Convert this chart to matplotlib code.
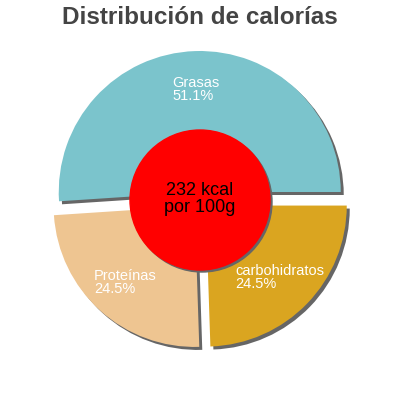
import matplotlib
matplotlib.use('Agg')
from matplotlib import pyplot as plt
from matplotlib.patches import Circle
import numpy as np

plt.rcParams['font.family'] = ['Liberation Sans', 'DejaVu Sans']

# data
labels = ['Grasas', 'Proteínas', 'carbohidratos']
percents = [51.1, 24.5, 24.5]
colors = ['#7bc4cc', '#eec591', '#daa520']
kcal = 232
title = 'Distribución de calorías'

radius = 141
gap = 8
shadow_off = (3, -3)

fig = plt.figure(figsize=(4, 4), dpi=100)
ax = fig.add_axes([0, 0, 1, 1])

# shadow first, then the real slices
ax.pie(percents, radius=radius, center=shadow_off, startangle=0,
       explode=[gap] * len(percents), colors=['#666666'] * len(percents),
       frame=True)
wedges, _ = ax.pie(percents, radius=radius, center=(0, 0), startangle=0,
                   explode=[gap] * len(percents), colors=colors, frame=True)
ax.set_xlim(-200, 200)
ax.set_ylim(-200, 200)
ax.set_aspect('equal')
ax.axis('off')

for w, lab, p in zip(wedges, labels, percents):
    mid = np.deg2rad((w.theta1 + w.theta2) / 2)
    cx, cy = w.center
    x = cx + 0.73 * radius * np.cos(mid)
    y = cy + 0.73 * radius * np.sin(mid)
    ax.text(x, y, f'{lab}\n{p}%', ha='center', va='center', multialignment='left',
            color='white', fontsize=10.5, linespacing=0.9)

ax.add_patch(Circle((2, -2), 70, color='#666666', zorder=5))
ax.add_patch(Circle((0, 0), 70, color='#ff0000', zorder=6))
ax.text(0, 1, f'{kcal} kcal\npor 100g', ha='center', va='center', fontsize=13,
        linespacing=0.95, color='black', zorder=7)

fig.text(0.5, 1 - 18 / 400, title, ha='center', va='center', fontsize=17.5,
         fontweight='bold', color='#444444')

fig.savefig('out.png', dpi=100)
